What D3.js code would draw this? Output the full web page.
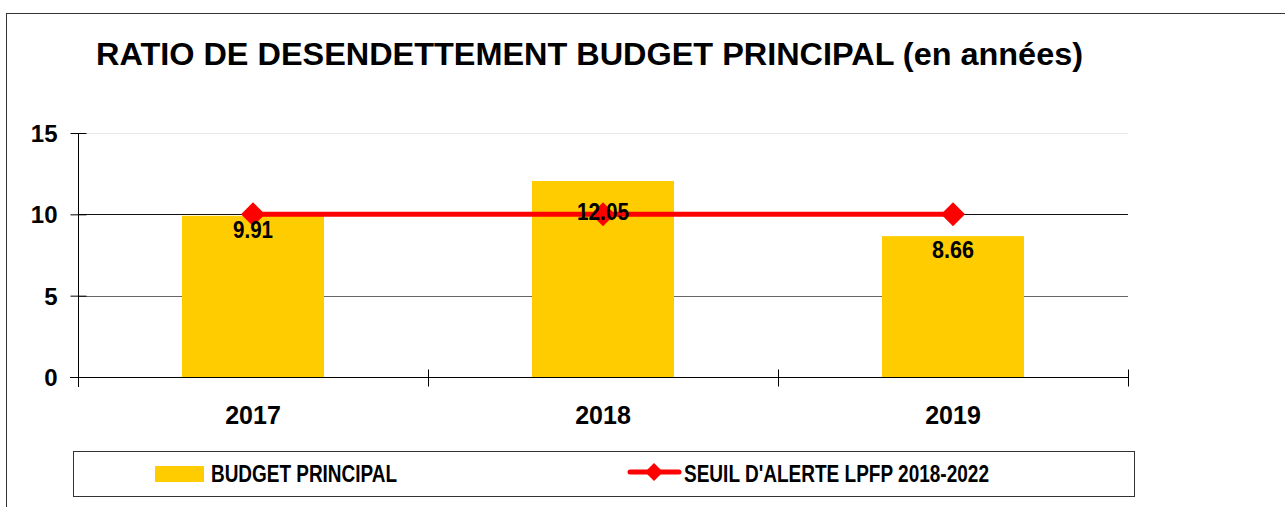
<!DOCTYPE html>
<html lang="fr">
<head>
<meta charset="utf-8">
<script src="https://d3js.org/d3.v7.min.js"></script>
<style type="text/css">
body { margin: 0; background: #fff; }
svg text { font-family: "Liberation Sans", Arial, sans-serif; font-weight: bold; }
</style>
</head>
<body>
<div class="chart"></div>
<script type="text/javascript">
// data
var years = ["2017", "2018", "2019"];
var budget = [9.91, 12.05, 8.66];
var seuil = [10, 10, 10];
var yTicks = [0, 5, 10, 15];
var labelDy = [14, 31, 14]; // label offset under the bar top, as in the original
var title = "RATIO DE DESENDETTEMENT BUDGET PRINCIPAL (en années)";
var legendNames = ["BUDGET PRINCIPAL", "SEUIL D'ALERTE LPFP 2018-2022"];

var width = 1285, height = 507;
var yellow = "#FFCC00", red = "#FF0000";

var svg = d3.select(".chart").append("svg")
	.attr("width", width)
	.attr("height", height);

// outer frame
svg.append("rect")
	.attr("x", 6.5).attr("y", 13.5)
	.attr("width", 1400).attr("height", 600)
	.style("fill", "none").style("stroke", "#333");

svg.append("text")
	.attr("x", 589.5).attr("y", 65)
	.attr("text-anchor", "middle")
	.attr("textLength", 987)
	.attr("lengthAdjust", "spacingAndGlyphs")
	.style("font-size", "31px")
	.text(title);

var x = d3.scaleBand().domain(years).range([78, 1128]);
var y = d3.scaleLinear().domain([0, 15]).range([377, 133]);

// gridlines
svg.append("g").selectAll("line")
	.data(yTicks.slice(1))
	.enter().append("line")
	.attr("x1", 78).attr("x2", 1128)
	.attr("y1", function(d) { return Math.round(y(d)) + 0.5; })
	.attr("y2", function(d) { return Math.round(y(d)) + 0.5; })
	.style("stroke", function(d) { return d == 15 ? "#e8e8e8" : (d == 10 ? "#111" : "#666"); })
	.style("stroke-width", 1);

// bars
svg.append("g").selectAll("rect")
	.data(budget)
	.enter().append("rect")
	.attr("x", function(d, i) { return x(years[i]) + x.bandwidth() / 2 - 71; })
	.attr("width", 142)
	.attr("y", function(d) { return y(d); })
	.attr("height", function(d) { return y(0) - y(d); })
	.style("fill", yellow);

// y axis
var yAxis = d3.axisLeft(y).tickValues(yTicks).tickSizeInner(8).tickSizeOuter(0);
var ga = svg.append("g")
	.attr("transform", "translate(78.5,0)")
	.call(yAxis);
ga.select(".domain").attr("d", "M0," + y(15) + "V" + (y(0) + 10));
ga.selectAll(".tick line").attr("x1", -8).attr("x2", 8).style("stroke", "#000");
ga.selectAll(".tick text")
	.style("font-size", "24px")
	.style("font-family", "Liberation Sans, Arial, sans-serif")
	.attr("fill", "#000")
	.attr("dy", "0.36em").attr("x", -21);

// x axis
var gx = svg.append("g")
	.attr("transform", "translate(0," + (Math.round(y(0)) + 0.5) + ")");
gx.append("line").attr("x1", 70).attr("x2", 1128).style("stroke", "#000");
gx.selectAll(".xt")
	.data(years.concat(["end"]))
	.enter().append("line")
	.attr("x1", function(d, i) { return Math.round(x.range()[0] + i * x.step()) + 0.5; })
	.attr("x2", function(d, i) { return Math.round(x.range()[0] + i * x.step()) + 0.5; })
	.attr("y1", -8).attr("y2", 9)
	.style("stroke", "#000");
gx.selectAll(".xl")
	.data(years)
	.enter().append("text")
	.attr("x", function(d) { return x(d) + x.bandwidth() / 2; })
	.attr("y", 46)
	.attr("text-anchor", "middle")
	.style("font-size", "25px")
	.text(function(d) { return d; });

// threshold line
var line = d3.line()
	.x(function(d, i) { return x(years[i]) + x.bandwidth() / 2; })
	.y(function(d) { return y(d); });
svg.append("path")
	.datum(seuil)
	.attr("d", line)
	.style("fill", "none")
	.style("stroke", red)
	.style("stroke-width", 5);
svg.append("g").selectAll("path")
	.data(seuil)
	.enter().append("path")
	.attr("d", "M0,-12L12,0L0,12L-12,0Z")
	.attr("transform", function(d, i) { return "translate(" + (x(years[i]) + x.bandwidth() / 2) + "," + y(d) + ")"; })
	.style("fill", red);

// data labels (narrow bold font in the original)
var labelW = [40, 52, 42];
svg.append("g").selectAll("text")
	.data(budget)
	.enter().append("text")
	.attr("x", function(d, i) { return x(years[i]) + x.bandwidth() / 2; })
	.attr("y", function(d, i) { return y(d) + labelDy[i]; })
	.attr("dy", "0.36em")
	.attr("text-anchor", "middle")
	.attr("textLength", function(d, i) { return labelW[i]; })
	.attr("lengthAdjust", "spacingAndGlyphs")
	.style("font-size", "23px")
	.text(function(d) { return d.toFixed(2); });

// legend
var lg = svg.append("g");
lg.append("rect")
	.attr("x", 73.5).attr("y", 451.5)
	.attr("width", 1061).attr("height", 45)
	.style("fill", "#fff").style("stroke", "#333");
lg.append("rect")
	.attr("x", 155).attr("y", 466)
	.attr("width", 49).attr("height", 16)
	.style("fill", yellow);
lg.append("text")
	.attr("x", 211).attr("y", 482)
	.attr("textLength", 186)
	.attr("lengthAdjust", "spacingAndGlyphs")
	.style("font-size", "24px")
	.text(legendNames[0]);
lg.append("line")
	.attr("x1", 630).attr("x2", 679)
	.attr("y1", 472).attr("y2", 472)
	.style("stroke", red).style("stroke-width", 5).style("stroke-linecap", "round");
lg.append("path")
	.attr("d", "M0,-9L9,0L0,9L-9,0Z")
	.attr("transform", "translate(654,472)")
	.style("fill", red);
lg.append("text")
	.attr("x", 684).attr("y", 482)
	.attr("textLength", 305)
	.attr("lengthAdjust", "spacingAndGlyphs")
	.style("font-size", "24px")
	.text(legendNames[1]);
</script>
</body>
</html>
